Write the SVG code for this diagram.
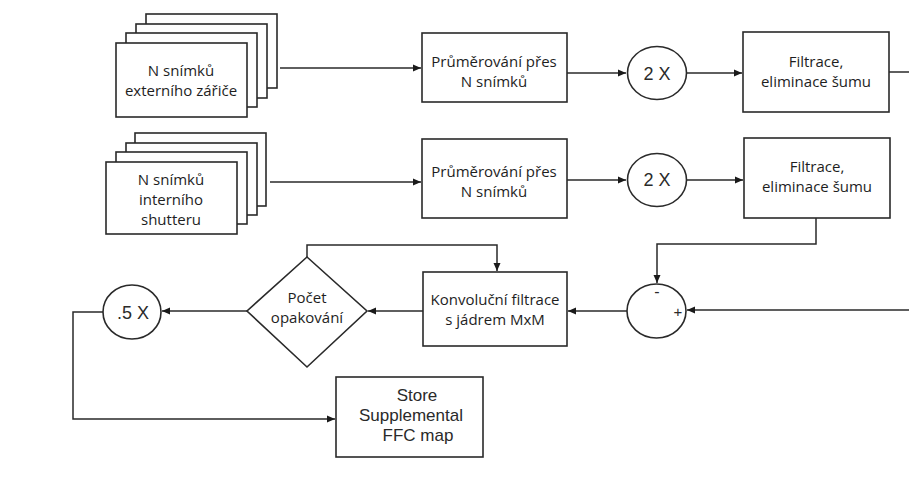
<svg xmlns="http://www.w3.org/2000/svg" width="909" height="496" viewBox="0 0 909 496">
<defs>
<marker id="arr" markerUnits="userSpaceOnUse" markerWidth="9" markerHeight="8" refX="8" refY="4" orient="auto">
<path d="M0,0.5 L8,4 L0,7.5 z" fill="#1a1a1a"/>
</marker>
<style>
.box{fill:#fff;stroke:#2a2a2a;stroke-width:1.6}
.ln{fill:none;stroke:#2a2a2a;stroke-width:1.5}
.cz{font-family:"Open Sans","Noto Sans",sans-serif;font-size:15px;fill:#1e1e1e;text-anchor:middle}
.ar{font-family:"Liberation Sans",Arial,sans-serif;font-size:18px;fill:#2a2a2a;text-anchor:middle}
.st{font-family:"Liberation Sans",Arial,sans-serif;font-size:17px;fill:#2a2a2a;text-anchor:middle}
</style>
</defs>
<rect width="909" height="496" fill="#fff"/>

<g id="connectors">
<path class="ln" d="M280,68 H421" marker-end="url(#arr)"/>
<path class="ln" d="M567,73 H626" marker-end="url(#arr)"/>
<path class="ln" d="M686,73 H742" marker-end="url(#arr)"/>
<path class="ln" d="M889,72 H909"/>
<path class="ln" d="M270,182 H421" marker-end="url(#arr)"/>
<path class="ln" d="M567,180 H626" marker-end="url(#arr)"/>
<path class="ln" d="M686,180 H743" marker-end="url(#arr)"/>
<path class="ln" d="M816,218 V244 H657 V283" marker-end="url(#arr)"/>
<path class="ln" d="M909,310 H687" marker-end="url(#arr)"/>
<path class="ln" d="M627,311 H568" marker-end="url(#arr)"/>
<path class="ln" d="M423,311 H368" marker-end="url(#arr)"/>
<path class="ln" d="M307,257 V245 H497 V271" marker-end="url(#arr)"/>
<path class="ln" d="M247,311 H162" marker-end="url(#arr)"/>
<path class="ln" d="M103,312 H73 V419 H335" marker-end="url(#arr)"/>
</g>

<g id="stack-ext">
<rect class="box" x="146" y="14" width="131" height="74"/>
<rect class="box" x="136" y="24" width="131" height="74"/>
<rect class="box" x="126" y="33" width="131" height="74"/>
<rect class="box" x="116" y="43" width="131" height="74"/>
<text class="cz" x="181" y="76">N snímků</text>
<text class="cz" x="181" y="96">externího zářiče</text>
</g>

<g id="stack-int">
<rect class="box" x="135" y="133" width="131" height="73"/>
<rect class="box" x="126" y="143" width="131" height="72"/>
<rect class="box" x="116" y="152" width="131" height="72"/>
<rect class="box" x="106" y="162" width="131" height="72"/>
<text class="cz" x="171" y="185">N snímků</text>
<text class="cz" x="171" y="205">interního</text>
<text class="cz" x="171" y="225">shutteru</text>
</g>

<g id="avg1">
<rect class="box" x="422" y="33" width="145" height="69"/>
<text class="cz" x="494" y="67">Průměrování přes</text>
<text class="cz" x="494" y="87">N snímků</text>
</g>

<g id="avg2">
<rect class="box" x="422" y="139" width="145" height="79"/>
<text class="cz" x="494" y="177">Průměrování přes</text>
<text class="cz" x="494" y="197">N snímků</text>
</g>

<g id="mul1">
<ellipse class="box" cx="657" cy="73" rx="29.5" ry="26.5"/>
<text class="ar" x="657" y="80">2 X</text>
</g>

<g id="mul2">
<ellipse class="box" cx="657" cy="180" rx="29.5" ry="26.5"/>
<text class="ar" x="657" y="186">2 X</text>
</g>

<g id="filt1">
<rect class="box" x="743" y="32" width="146" height="80"/>
<text class="cz" x="816" y="67">Filtrace,</text>
<text class="cz" x="816" y="87">eliminace šumu</text>
</g>

<g id="filt2">
<rect class="box" x="744" y="138" width="146" height="80"/>
<text class="cz" x="817" y="172">Filtrace,</text>
<text class="cz" x="817" y="192">eliminace šumu</text>
</g>

<g id="sub">
<ellipse class="box" cx="656.5" cy="311" rx="29.5" ry="27"/>
<text class="ar" x="657" y="297" style="font-size:16px">-</text>
<text class="ar" x="678" y="317" style="font-size:15px">+</text>
</g>

<g id="conv">
<rect class="box" x="423" y="272" width="144" height="74"/>
<text class="cz" x="495" y="305">Konvoluční filtrace</text>
<text class="cz" x="495" y="325">s jádrem MxM</text>
</g>

<g id="count">
<polygon class="box" points="307,257 367,311 307,367 247,311"/>
<text class="cz" x="307" y="303">Počet</text>
<text class="cz" x="307" y="323">opakování</text>
</g>

<g id="half">
<ellipse class="box" cx="132" cy="312" rx="29" ry="27"/>
<text class="ar" x="133" y="319">.5 X</text>
</g>

<g id="store">
<rect class="box" x="336" y="377" width="147" height="80"/>
<text class="st" x="417" y="401">Store</text>
<text class="st" x="411" y="421">Supplemental</text>
<text class="st" x="418" y="441">FFC map</text>
</g>
</svg>
